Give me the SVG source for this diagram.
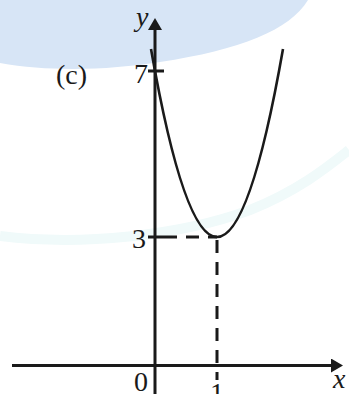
<svg xmlns="http://www.w3.org/2000/svg" width="349" height="394" viewBox="0 0 349 394">
  <style>
    .axis { stroke: #1a1a1a; stroke-width: 3; fill: none; }
    .curve { stroke: #1a1a1a; stroke-width: 2.6; fill: none; }
    .dash { stroke: #1a1a1a; stroke-width: 3; fill: none; stroke-dasharray: 13 9; }
    .num { font-family: "Liberation Serif", "Times New Roman", serif; font-size: 28px; fill: #1a1a1a; }
    .var { font-family: "Liberation Serif", "Times New Roman", serif; font-size: 28px; font-style: italic; fill: #1a1a1a; }
  </style>
  <defs>
    <marker id="arrow" markerUnits="userSpaceOnUse" viewBox="0 0 12 14" markerWidth="12" markerHeight="14" refX="0" refY="7" orient="auto">
      <path d="M0,0 L12,7 L0,14 Z" fill="#1a1a1a"/>
    </marker>
  </defs>
  <rect width="349" height="394" fill="#ffffff"/>
  <g id="watermark">
    <path d="M0,0 H308 C290,30 240,50 160,62 C110,70 50,72 0,63 Z" fill="#d7e5f6"/>
    <path d="M0,236 C80,246 180,236 250,210 C300,190 330,165 349,150" stroke="#f0fafa" stroke-width="10" fill="none"/>
  </g>
  <g id="connectors">
    <line id="y-axis" class="axis" x1="155" y1="394" x2="155" y2="30" marker-end="url(#arrow)"/>
    <line id="x-axis" class="axis" x1="12" y1="365.5" x2="331" y2="365.5" marker-end="url(#arrow)"/>
    <line id="tick-7" class="axis" x1="148" y1="71" x2="164" y2="71"/>
    <line id="tick-3" class="axis" x1="148" y1="237" x2="164" y2="237"/>
    <line id="dash-h" class="dash" x1="164" y1="237" x2="217" y2="237"/>
    <line id="dash-v" class="dash" x1="217" y1="240" x2="217" y2="380"/>
    <path id="parabola" class="curve" d="M151,49 Q217,425 283,49"/>
  </g>
  <g id="labels">
    <text class="var" x="136" y="26">y</text>
    <text class="num" x="148" y="83" text-anchor="end">7</text>
    <text class="num" x="56" y="84">(c)</text>
    <text class="num" x="146" y="248" text-anchor="end">3</text>
    <text class="num" x="148" y="391" text-anchor="end">0</text>
    <text class="num" x="217" y="402" text-anchor="middle">1</text>
    <text class="var" x="333" y="388">x</text>
  </g>
</svg>
